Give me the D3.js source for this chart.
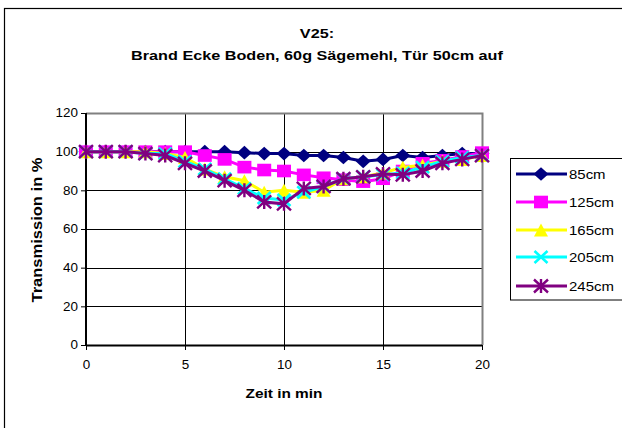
<!DOCTYPE html>
<html><head><meta charset="utf-8">
<script src="https://cdn.jsdelivr.net/npm/d3@7"></script>
<style>body{margin:0;background:#fff}svg{display:block}text{font-family:Arial,"Liberation Sans",sans-serif}</style>
</head><body>
<svg id="c" width="622" height="428"></svg>
<script>
const times = [0,1,2,3,4,5,6,7,8,9,10,11,12,13,14,15,16,17,18,19,20];
const seriesNames = ["85cm","125cm","165cm","205cm","245cm"];
const s85  = [100,100,100,100,100,100,100,100,99.5,99,99,98,98,97,95,96,98,97,98,99,99];
const s125 = [100,100,100,100,100,100,98,96,92,90.5,90,88,86.5,85.5,84.5,86,90,94,95.5,97.5,99.5];
const s165 = [100,100,100,100,99,97,91,87,85,79,80,79,80,86,87,89,92,93,95,96,98];
const s205 = [100,100,100,99,99,95,91,86,81,76,75,79,82,86,87,88,89,92,95,97,98];
const s245 = [100,100,100,99,98,94,90,85,80,74,73,81,82,86,87,88.5,88,90,94,96,98];
const xTicks = [0,5,10,15,20];
const yTicks = [0,20,40,60,80,100,120];
const titleLines = ["V25:","Brand Ecke Boden, 60g Sägemehl, Tür 50cm auf"];

const seriesVals = [s85,s125,s165,s205,s245];
const colors = ["#000080","#FF00FF","#FFFF00","#00FFFF","#800080"];
const markers = ["diamond","square","triangle","x","star"];
const STRETCH = 1.16;

const svg = d3.select("#c");
const L=86,R=482,T=113,B=345;
const x = d3.scaleLinear().domain([0,20]).range([L,R]);
const y = d3.scaleLinear().domain([0,120]).range([B,T]);

function stretch(sel, f){
  sel.each(function(){
    const w=this.getComputedTextLength();
    d3.select(this).attr("textLength",w*f).attr("lengthAdjust","spacingAndGlyphs");
  });
}

// outer border
svg.append("rect").attr("x",4.5).attr("y",8.5).attr("width",660).attr("height",440)
  .attr("fill","#fff").attr("stroke","#000").attr("stroke-width",1.2);

// title
titleLines.forEach((t,i)=>{
  const tx=svg.append("text").attr("x",317).attr("y",38+i*22)
  .attr("text-anchor","middle").attr("font-size","13.5px").attr("font-weight","bold").text(t);
  stretch(tx, i===0?1.2:1.2);
});

// gridlines
svg.append("g").selectAll("line").data(yTicks.filter(d=>d>0&&d<120)).join("line")
  .attr("x1",L).attr("x2",R).attr("y1",d=>Math.round(y(d))+0.5).attr("y2",d=>Math.round(y(d))+0.5)
  .attr("stroke","#000").attr("stroke-width",1);
svg.append("g").selectAll("line").data(xTicks.filter(d=>d>0&&d<20)).join("line")
  .attr("y1",T).attr("y2",B).attr("x1",d=>Math.round(x(d))+0.5).attr("x2",d=>Math.round(x(d))+0.5)
  .attr("stroke","#000").attr("stroke-width",1);
// plot border (top, right) gray
svg.append("path").attr("d",`M${L},${T+0.5}H${R+0.5}V${B}`).attr("fill","none")
  .attr("stroke","#808080").attr("stroke-width",2);

// axes
const yAxis = d3.axisLeft(y).tickValues(yTicks).tickSize(5).tickPadding(3);
const gy = svg.append("g").attr("transform",`translate(${L},0)`).call(yAxis);
const xAxis = d3.axisBottom(x).tickValues(xTicks).tickSize(5).tickPadding(10);
const gx = svg.append("g").attr("transform",`translate(0,${B})`).call(xAxis);
[gx,gy].forEach(g=>{
  g.select(".domain").attr("stroke","#000").attr("stroke-width",2);
  g.selectAll(".tick line").attr("stroke","#000");
  g.selectAll("text").attr("font-size","12px").attr("font-family","Arial,'Liberation Sans',sans-serif").attr("fill","#000");
  stretch(g.selectAll("text"), 1.12);
});
gx.select(".domain").attr("d",`M${L},0.5H${R}`);
gy.select(".domain").attr("d",`M0,${T}V${B}`);

// axis titles
const xt=svg.append("text").attr("x",284).attr("y",398).attr("text-anchor","middle")
  .attr("font-size","13.5px").attr("font-weight","bold").text("Zeit in min");
xt.attr("textLength",77).attr("lengthAdjust","spacingAndGlyphs");
const yt=svg.append("text").attr("transform","translate(42,230) rotate(-90)").attr("text-anchor","middle")
  .attr("font-size","14px").attr("font-weight","bold").text("Transmission in %");
yt.attr("textLength",145).attr("lengthAdjust","spacingAndGlyphs");

function drawMarker(g,type,cx,cy,color){
  if(type==="diamond"){
    const w=7.5,h=6.8;
    g.append("path").attr("d",`M${cx},${cy-h}L${cx+w},${cy}L${cx},${cy+h}L${cx-w},${cy}Z`).attr("fill",color);
  } else if(type==="square"){
    const w=7,h=6.3;
    g.append("rect").attr("x",cx-w).attr("y",cy-h).attr("width",2*w).attr("height",2*h).attr("fill",color);
  } else if(type==="triangle"){
    const w=7,h=6.5;
    g.append("path").attr("d",`M${cx},${cy-h}L${cx+w},${cy+h}L${cx-w},${cy+h}Z`).attr("fill",color);
  } else if(type==="x"){
    const w=6.5,h=6;
    g.append("path").attr("d",`M${cx-w},${cy-h}L${cx+w},${cy+h}M${cx+w},${cy-h}L${cx-w},${cy+h}`)
      .attr("stroke",color).attr("stroke-width",2.6).attr("fill","none");
  } else {
    const w=7,h=6.5;
    g.append("path").attr("d",`M${cx-w},${cy-h}L${cx+w},${cy+h}M${cx+w},${cy-h}L${cx-w},${cy+h}M${cx},${cy-h-0.5}L${cx},${cy+h+0.5}`)
      .attr("stroke",color).attr("stroke-width",2.4).attr("fill","none");
  }
}

const line = d3.line().x(d=>x(d[0])).y(d=>y(d[1]));
seriesVals.forEach((vals,i)=>{
  const g = svg.append("g");
  const pts = times.map((t,j)=>[t,vals[j]]);
  g.append("path").attr("d",line(pts)).attr("fill","none").attr("stroke",colors[i]).attr("stroke-width",3);
  pts.forEach(p=>drawMarker(g,markers[i],x(p[0]),y(p[1]),colors[i]));
});

// legend
svg.append("rect").attr("x",510.5).attr("y",158.5).attr("width",120).attr("height",141.5)
  .attr("fill","#fff").attr("stroke","#000").attr("stroke-width",1);
const legY=[174,202,230,257,286];
seriesNames.forEach((n,i)=>{
  const g=svg.append("g");
  g.append("line").attr("x1",516).attr("x2",567).attr("y1",legY[i]).attr("y2",legY[i])
    .attr("stroke",colors[i]).attr("stroke-width",3);
  drawMarker(g,markers[i],541,legY[i],colors[i]);
  const t=g.append("text").attr("x",569).attr("y",legY[i]+5).attr("font-size","13px").text(n);
  stretch(t,1.15);
});
</script>
</body></html>
